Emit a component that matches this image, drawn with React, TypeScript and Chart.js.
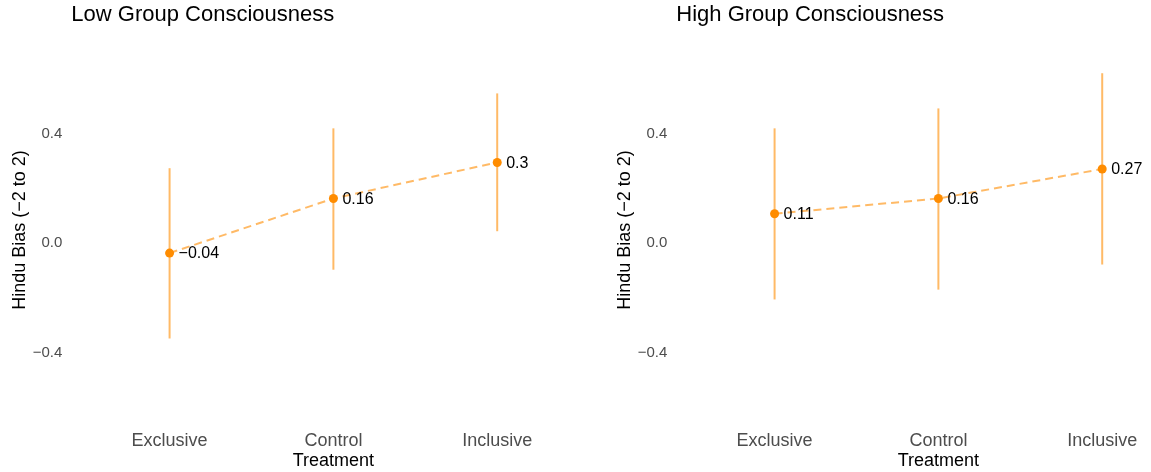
import React, { useEffect, useRef } from "react";
import { Chart, registerables } from "chart.js";

Chart.register(...registerables);

const categories = ["Exclusive", "Control", "Inclusive"];
const lowTitle = "Low Group Consciousness";
const highTitle = "High Group Consciousness";
const lowMeans = [-0.036, 0.164, 0.296];
const lowLower = [-0.349, -0.097, 0.044];
const lowUpper = [0.275, 0.421, 0.549];
const highMeans = [0.108, 0.164, 0.272];
const highLower = [-0.206, -0.17, -0.078];
const highUpper = [0.421, 0.494, 0.623];
const yTicks = [-0.4, 0, 0.4];
const xTitle = "Treatment";
const yTitle = "Hindu Bias (\u22122 to 2)";

const FONT = "'Liberation Sans', Arial, Helvetica, sans-serif";
const POINT_COLOR = "#FF8C00";
const LIGHT = "rgba(255,140,0,0.6)";

function fmtLabel(v: number): string {
  const r = Math.round(v * 100) / 100;
  return String(r).replace("-", "\u2212");
}
function fmtTick(v: number): string {
  const s = Math.abs(v).toFixed(1);
  return v < 0 ? "\u2212" + s : s;
}

const errorBarPlugin = {
  id: "errorBars",
  beforeDatasetsDraw(chart: any, _args: any, opts: any) {
    const { ctx } = chart;
    const x = chart.scales.x;
    const y = chart.scales.y;
    ctx.save();
    ctx.strokeStyle = opts.color;
    ctx.lineWidth = 2;
    (opts.lower as number[]).forEach((lo, i) => {
      const px = x.getPixelForValue(i + 1);
      ctx.beginPath();
      ctx.moveTo(px, y.getPixelForValue(lo));
      ctx.lineTo(px, y.getPixelForValue(opts.upper[i]));
      ctx.stroke();
    });
    ctx.restore();
  },
};

const valueLabelPlugin = {
  id: "valueLabels",
  afterDatasetsDraw(chart: any, _args: any, opts: any) {
    const { ctx } = chart;
    const x = chart.scales.x;
    const y = chart.scales.y;
    ctx.save();
    ctx.fillStyle = "#000";
    ctx.font = `16px ${FONT}`;
    ctx.textAlign = "left";
    ctx.textBaseline = "middle";
    (opts.values as number[]).forEach((v, i) => {
      ctx.fillText(fmtLabel(v), x.getPixelForValue(i + 1) + 9, y.getPixelForValue(v) + 1);
    });
    ctx.restore();
  },
};

function Panel(props: { left: number; title: string; means: number[]; lower: number[]; upper: number[] }) {
  const ref = useRef<HTMLCanvasElement | null>(null);
  useEffect(() => {
    if (!ref.current) return;
    const chart = new Chart(ref.current, {
      type: "line",
      data: {
        datasets: [
          {
            data: props.means.map((m, i) => ({ x: i + 1, y: m })),
            borderColor: LIGHT,
            borderWidth: 2,
            borderDash: [8, 5],
            pointRadius: 4.5,
            pointBackgroundColor: POINT_COLOR,
            pointBorderColor: POINT_COLOR,
            pointBorderWidth: 0,
            fill: false,
            tension: 0,
          },
        ],
      },
      options: {
        animation: false,
        responsive: false,
        layout: { padding: { left: 0, right: 2.3, top: 0, bottom: 0 } },
        plugins: {
          legend: { display: false },
          tooltip: { enabled: false },
          title: {
            display: true,
            text: props.title,
            align: "start",
            fullSize: false,
            color: "#000",
            font: { family: FONT, size: 22, weight: "normal" },
            padding: { top: 2, bottom: 3.6 },
          },
          errorBars: { lower: props.lower, upper: props.upper, color: LIGHT },
          valueLabels: { values: props.means },
        } as any,
        scales: {
          x: {
            type: "linear",
            min: 0.4,
            max: 3.6,
            grid: { display: false, drawTicks: false },
            border: { display: false },
            afterBuildTicks: (s: any) => {
              s.ticks = categories.map((_, i) => ({ value: i + 1 }));
            },
            afterFit: (s: any) => {
              s.height = 44;
            },
            ticks: {
              autoSkip: false,
              maxRotation: 0,
              padding: 2,
              color: "#4d4d4d",
              font: { family: FONT, size: 18 },
              callback: (v: any) => categories[Math.round(Number(v)) - 1] ?? "",
            },
            title: {
              display: true,
              text: xTitle,
              color: "#000",
              font: { family: FONT, size: 18 },
              padding: 0,
            },
          },
          y: {
            type: "linear",
            min: -0.677,
            max: 0.774,
            grid: { display: false, drawTicks: false },
            border: { display: false },
            afterBuildTicks: (s: any) => {
              s.ticks = yTicks.map((v) => ({ value: v }));
            },
            afterFit: (s: any) => {
              s.width = 71.3;
            },
            ticks: {
              padding: 9,
              color: "#4d4d4d",
              font: { family: FONT, size: 15 },
              callback: (v: any) => fmtTick(Number(v)),
            },
            title: {
              display: true,
              text: yTitle,
              color: "#000",
              font: { family: FONT, size: 18 },
              padding: { top: 9, bottom: 0 },
            },
          },
        },
      } as any,
      plugins: [errorBarPlugin, valueLabelPlugin],
    });
    return () => chart.destroy();
  }, []);
  return (
    <canvas
      ref={ref}
      width={600}
      height={472}
      style={{ position: "absolute", left: props.left, top: 0, width: 600, height: 472 }}
    />
  );
}

export default function App() {
  return (
    <div
      style={{
        position: "absolute",
        left: 0,
        top: 0,
        width: 1151,
        height: 472,
        overflow: "hidden",
        background: "#fff",
      }}
    >
      <Panel left={0} title={lowTitle} means={lowMeans} lower={lowLower} upper={lowUpper} />
      <Panel left={605} title={highTitle} means={highMeans} lower={highLower} upper={highUpper} />
    </div>
  );
}
